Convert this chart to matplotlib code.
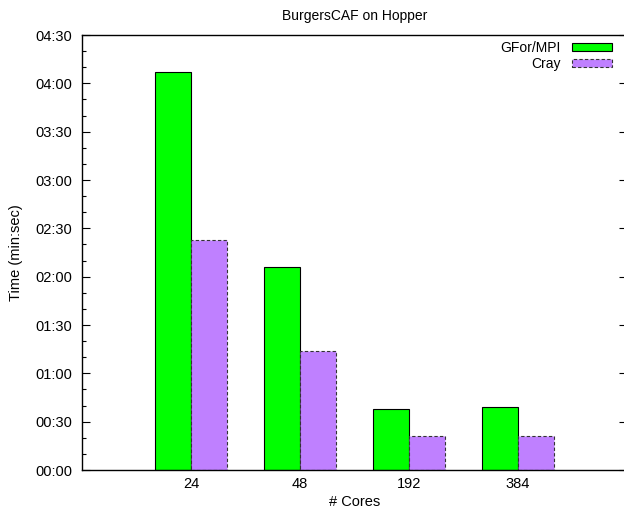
import matplotlib
matplotlib.use("Agg")
import matplotlib.pyplot as plt
import numpy as np
from matplotlib.ticker import FuncFormatter, MultipleLocator

# Data (times in seconds)
cores = ["24", "48", "192", "384"]
gfor_mpi = [247, 126, 38, 39]
cray = [143, 74, 21, 21]

plt.rcParams["font.family"] = ["Liberation Sans", "DejaVu Sans"]

fig = plt.figure(figsize=(6.24, 5.11), dpi=100)
ax = fig.add_axes([82 / 624, 41 / 511, 545 / 624, 435 / 511])

x = np.arange(len(cores))
w = 1 / 3
ax.bar(x - w / 2, gfor_mpi, width=w, color="#00ff00", edgecolor="black",
       linewidth=0.8, label="GFor/MPI")
ax.bar(x + w / 2, cray, width=w, color="#bf80ff", edgecolor="#333333",
       linewidth=0.8, linestyle=(0, (3, 2)), label="Cray")

ax.set_xlim(-1, 4)
ax.set_ylim(0, 270)
ax.set_xticks(x)
ax.set_xticklabels(cores)
ax.tick_params(axis="x", length=0, pad=5, labelsize=10.5)

ax.yaxis.set_major_locator(MultipleLocator(30))
ax.yaxis.set_minor_locator(MultipleLocator(10))
ax.yaxis.set_major_formatter(FuncFormatter(lambda v, p: f"{int(v) // 60:02d}:{int(v) % 60:02d}"))
ax.tick_params(axis="y", which="major", direction="in", length=6, width=0.8,
               right=True, pad=7, labelsize=10.5)
ax.tick_params(axis="y", which="minor", direction="in", length=3, width=0.8,
               right=False)

for s in ax.spines.values():
    s.set_linewidth(1.0)

ax.set_title("BurgersCAF on Hopper", fontsize=10, pad=11)
ax.set_xlabel("# Cores", fontsize=10.5, labelpad=3)
ax.set_ylabel("Time (min:sec)", fontsize=10.5, labelpad=9)

ax.legend(loc="upper right", bbox_to_anchor=(612 / 624, 470 / 511),
          bbox_transform=fig.transFigure, frameon=False, markerfirst=False,
          fontsize=10, handlelength=2.9, handleheight=0.55, handletextpad=0.8,
          labelspacing=0.15, borderaxespad=0, borderpad=0)

fig.savefig("out.png", dpi=100)
